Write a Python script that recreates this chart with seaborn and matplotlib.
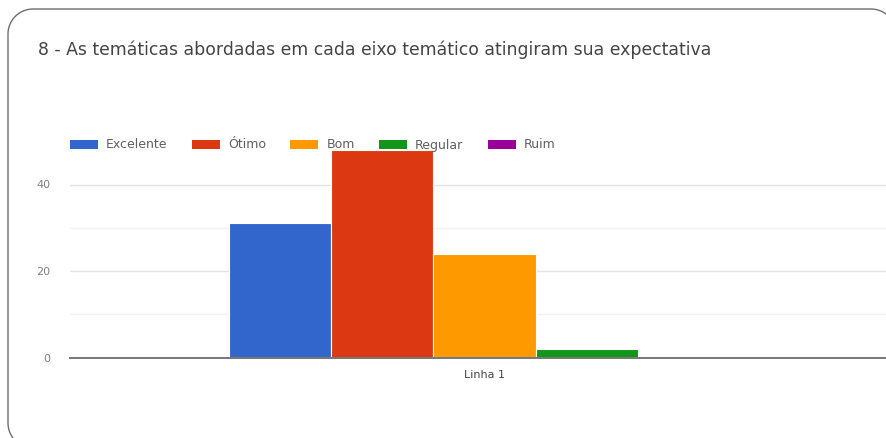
import seaborn as sns
import pandas as pd
import numpy as np
import matplotlib.pyplot as plt
from matplotlib.patches import Patch, PathPatch
from matplotlib.path import Path
from matplotlib.ticker import FixedLocator

# dados
categorias = ["Excelente", "Ótimo", "Bom", "Regular", "Ruim"]
respostas = [31, 48, 24, 2, 0]
linhas = ["Linha 1"] * len(categorias)
cores = ["#3366cc", "#dc3912", "#ff9900", "#109618", "#990099"]
yticks_maior = [0, 20, 40]
yticks_menor = [10, 30]

titulo = "8 - As temáticas abordadas em cada eixo temático atingiram sua expectativa"

sns.set_style("white")
plt.rcParams['font.family'] = ['DejaVu Sans']
plt.rcParams['savefig.bbox'] = 'standard'

W, H = 887, 438
fig = plt.figure(figsize=(W / 100, H / 100), dpi=100)


def canto(cx, cy, r, a0, a1):
    t = np.radians(np.linspace(a0, a1, 24))
    return list(zip(cx + r * np.cos(t), cy + r * np.sin(t)))


# moldura arredondada, em polegadas (aberta: lados de fora da imagem nao desenhados)
esq, topo, dir_, base, r = 0.08, 4.29, 8.96, -0.10, 0.25
pts = [(0.8, base)]
pts += canto(esq + r, base + r, r, 270, 180)
pts += canto(esq + r, topo - r, r, 180, 90)
pts += canto(dir_ - r, topo - r, r, 90, 0)
pts += [(dir_, base)]
moldura = PathPatch(Path(pts), transform=fig.dpi_scale_trans, fill=False,
                    edgecolor="#6f6f6f", linewidth=1.0, zorder=5)
fig.patches.append(moldura)

ax = fig.add_axes([70 / W, 1 - 357.7 / H, 829 / W, 216.5 / H])
ax.patch.set_alpha(0)

df = pd.DataFrame({"linha": linhas, "categoria": categorias, "respostas": respostas})
sns.barplot(data=df, x="linha", y="respostas", hue="categoria", hue_order=categorias,
            palette=cores, saturation=1, width=0.617, edgecolor="white",
            linewidth=0.8, legend=False, ax=ax, zorder=3)

ax.set_xlim(-0.5, 0.5)
ax.set_ylim(0, 50)
ax.yaxis.set_major_locator(FixedLocator(yticks_maior))
ax.yaxis.set_minor_locator(FixedLocator(yticks_menor))
ax.grid(axis="y", which="major", color="#e4e4e4", linewidth=1.0, zorder=0)
ax.grid(axis="y", which="minor", color="#f2f2f2", linewidth=1.0, zorder=0)
ax.set_axisbelow(True)
ax.tick_params(axis="y", which="both", length=0, pad=14, labelsize=8, labelcolor="#808080")
ax.tick_params(axis="x", length=0, pad=9, labelsize=8, labelcolor="#444444")
ax.set_xlabel("")
ax.set_ylabel("")
for lado in ["top", "right", "left"]:
    ax.spines[lado].set_visible(False)
ax.spines["bottom"].set_color("#777777")
ax.spines["bottom"].set_linewidth(1.4)
ax.spines["bottom"].set_zorder(4)

fig.text(38 / W, 1 - 50 / H, titulo, fontsize=12.4, color="#444444", va="center", ha="left")

alcas = [Patch(facecolor=c, edgecolor="none") for c in cores]
fig.legend(alcas, categorias, ncol=5, loc="center left",
           bbox_to_anchor=(70 / W, 1 - 145 / H), frameon=False,
           fontsize=9, labelcolor="#606060", handlelength=2.24, handleheight=0.7,
           handletextpad=0.64, columnspacing=1.95, borderpad=0, borderaxespad=0)

fig.savefig("out.png", dpi=100, bbox_inches=None)
